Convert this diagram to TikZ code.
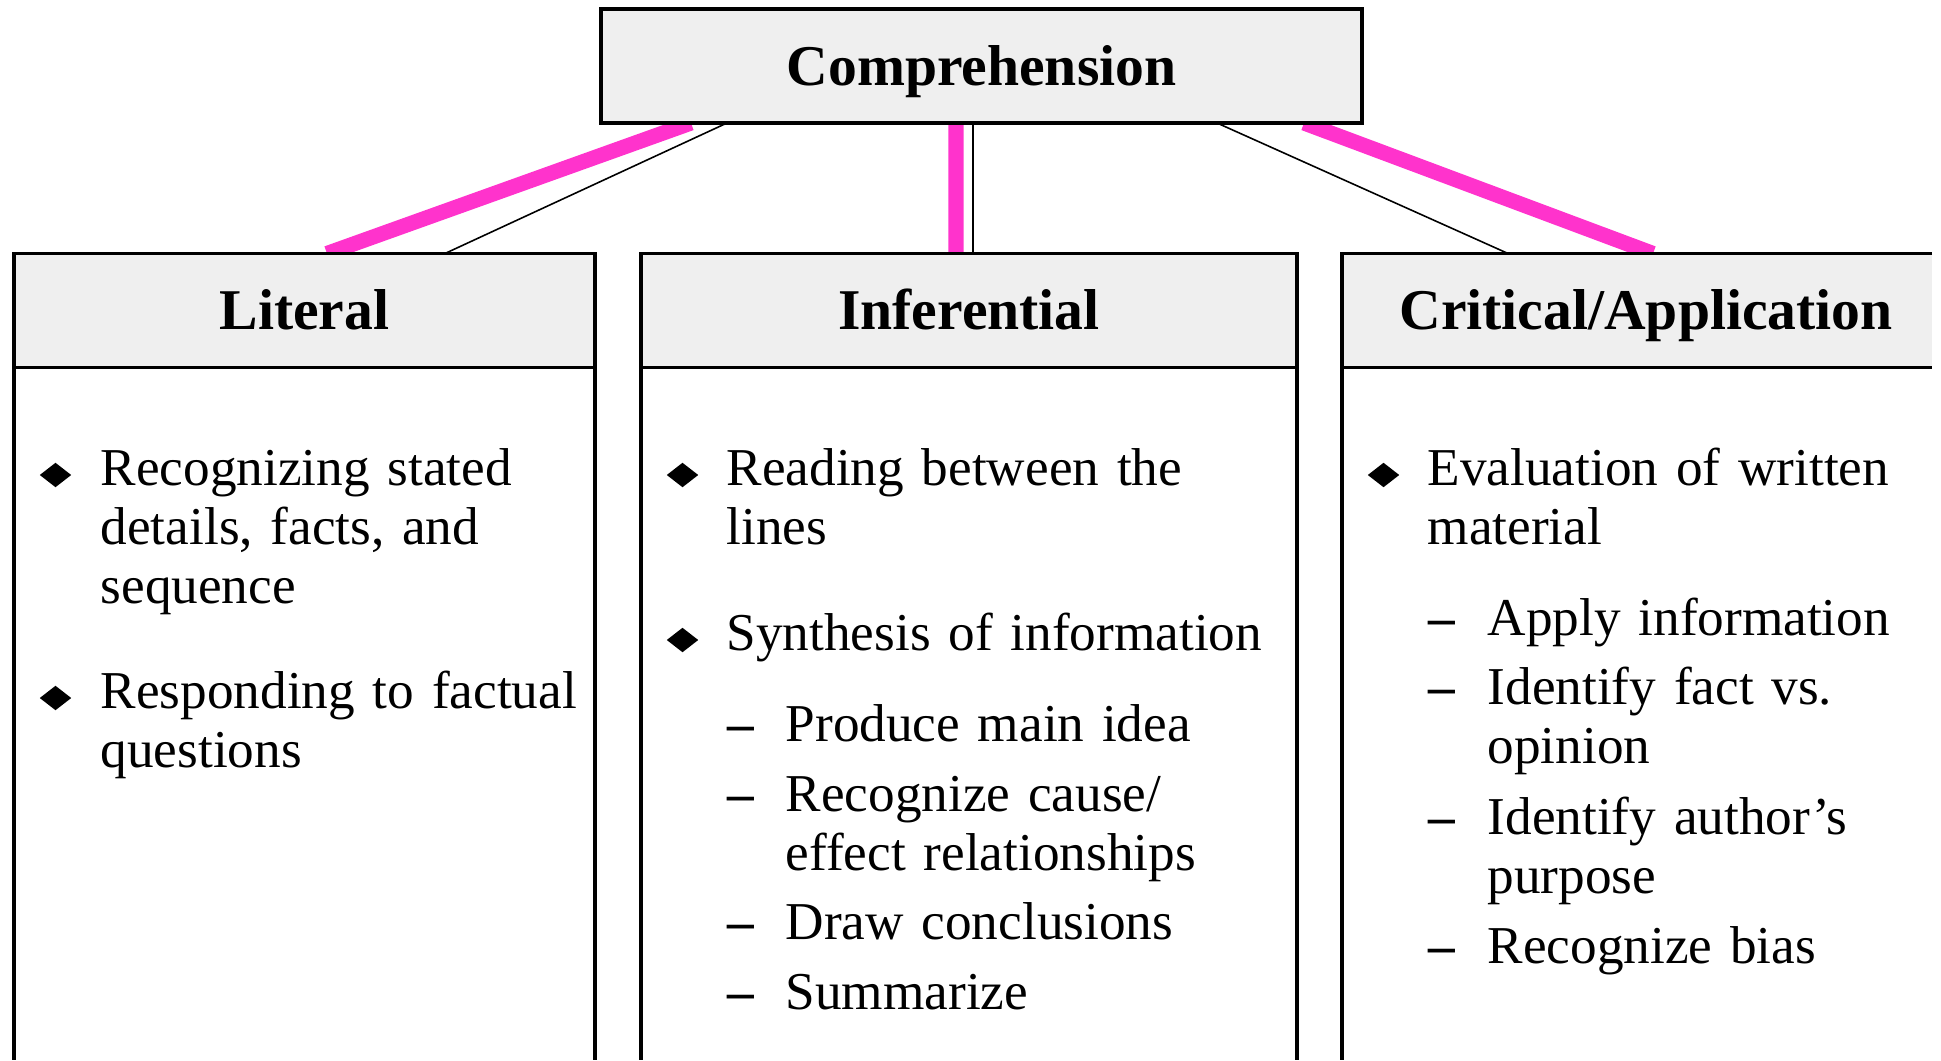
\documentclass[tikz,border=0pt]{standalone}
\usepackage{fontspec}
\setmainfont{Liberation Serif}
\usetikzlibrary{positioning,shapes.geometric,backgrounds}
\definecolor{linkpink}{RGB}{255,51,204}
\definecolor{headgray}{RGB}{239,239,239}
\begin{document}
\begin{tikzpicture}[
    headbox/.style={draw, line width=1.1pt, fill=headgray, minimum height=1.14cm, inner sep=0pt, outer sep=0pt,
      text height=0.5cm, text depth=0.11cm, font=\fontsize{16.4}{19}\selectfont\bfseries},
    item/.style={anchor=base west, text width=6.2cm, align=left, inner sep=0pt, font=\fontsize{15.15}{16.9}\selectfont},
    dashmark/.style={anchor=base west, inner sep=0pt, font=\fontsize{15.15}{16.9}\selectfont\bfseries},
    bulletmark/.style={diamond, fill=black, inner sep=0pt, aspect=1.3, minimum width=0.32cm, minimum height=0.25cm},
    pinklink/.style={linkpink, line width=4.3pt},
    thinlink/.style={black, line width=0.45pt},
    sideline/.style={line width=1.1pt}
  ]
  \useasboundingbox (0,0) rectangle (19.41,-10.60);
  \coordinate (bottom) at (0,-10.60);
  % Comprehension
  \node[headbox, minimum width=7.61cm] (comp) at (9.815,-0.66) {Comprehension};
  % Kopfzeilen
  \node[headbox, minimum width=5.81cm] (literal) at (3.045,-3.105) {Literal};
  \node[headbox, minimum width=6.56cm] (infer) at (9.69,-3.105) {Inferential};
  \node[headbox, draw=none, minimum width=5.90cm] (critical) at (16.37,-3.105) {\hspace*{0.18cm}Critical/Application};
  \draw[sideline] (critical.north east) -- (critical.north west) -- (critical.south west) -- (critical.south east);
  % Spalten
  \draw[sideline] (literal.south west) -- (literal.south west |- bottom);
  \draw[sideline] (literal.south east) -- (literal.south east |- bottom);
  \draw[sideline] (infer.south west) -- (infer.south west |- bottom);
  \draw[sideline] (infer.south east) -- (infer.south east |- bottom);
  \draw[sideline] (critical.south west) -- (critical.south west |- bottom);
  % Verbindungen
  \begin{scope}[on background layer]
    \draw[pinklink] ([xshift=0.90cm]comp.south west) -- ([xshift=3.13cm]literal.north west);
    \draw[thinlink] ([xshift=1.26cm]comp.south west) -- ([xshift=4.31cm]literal.north west);
    \draw[pinklink] ([xshift=3.55cm]comp.south west) -- ([xshift=3.15cm]infer.north west);
    \draw[thinlink] ([xshift=3.72cm]comp.south west) -- ([xshift=3.32cm]infer.north west);
    \draw[thinlink] ([xshift=6.16cm]comp.south west) -- ([xshift=1.66cm]critical.north west);
    \draw[pinklink] ([xshift=7.03cm]comp.south west) -- ([xshift=3.11cm]critical.north west);
  \end{scope}
  % Literal
  \node[bulletmark] (litb1) at (0.555,-4.75) {};
  \node[item] (lit1) at (1.00,-4.85) {Recognizing stated\\details, facts, and\\sequence};
  \node[bulletmark] (litb2) at (0.555,-6.98) {};
  \node[item] (lit2) at (1.00,-7.08) {Responding to factual\\questions};
  % Inferential
  \node[bulletmark] (infb1) at (6.825,-4.75) {};
  \node[item] (inf1) at (7.26,-4.85) {Reading between the\\lines};
  \node[bulletmark] (infb2) at (6.825,-6.40) {};
  \node[item] (inf2) at (7.26,-6.50) {Synthesis of information};
  \node[dashmark] (infd1) at (7.27,-7.41) {--};
  \node[item] (inf3) at (7.85,-7.41) {Produce main idea};
  \node[dashmark] (infd2) at (7.27,-8.11) {--};
  \node[item] (inf4) at (7.85,-8.11) {Recognize cause/\\effect relationships};
  \node[dashmark] (infd3) at (7.27,-9.39) {--};
  \node[item] (inf5) at (7.85,-9.39) {Draw conclusions};
  \node[dashmark] (infd4) at (7.27,-10.09) {--};
  \node[item] (inf6) at (7.85,-10.09) {Summarize};
  % Critical/Application
  \node[bulletmark] (crib1) at (13.835,-4.75) {};
  \node[item] (cri1) at (14.27,-4.85) {Evaluation of written\\material};
  \node[dashmark] (crid1) at (14.28,-6.35) {--};
  \node[item] (cri2) at (14.87,-6.35) {Apply information};
  \node[dashmark] (crid2) at (14.28,-7.04) {--};
  \node[item] (cri3) at (14.87,-7.04) {Identify fact vs.\\opinion};
  \node[dashmark] (crid3) at (14.28,-8.34) {--};
  \node[item] (cri4) at (14.87,-8.34) {Identify author’s\\purpose};
  \node[dashmark] (crid4) at (14.28,-9.63) {--};
  \node[item] (cri5) at (14.87,-9.63) {Recognize bias};
\end{tikzpicture}
\end{document}
